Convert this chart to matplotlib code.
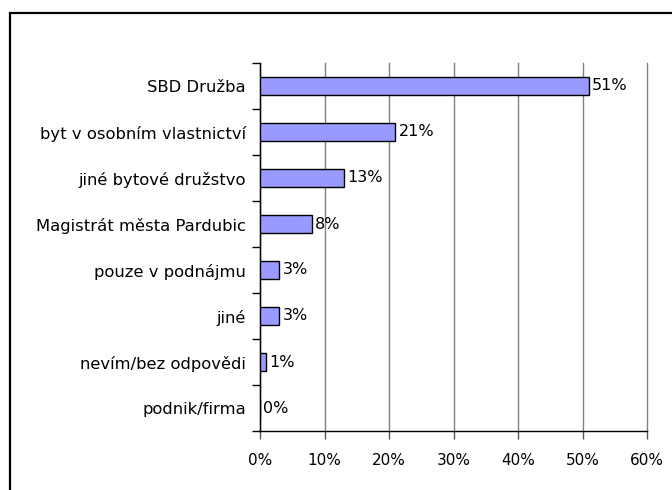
import matplotlib
matplotlib.use("Agg")
import matplotlib.pyplot as plt
from matplotlib.patches import Rectangle
from matplotlib.ticker import FixedLocator

categories = [
    "SBD Družba",
    "byt v osobním vlastnictví",
    "jiné bytové družstvo",
    "Magistrát města Pardubic",
    "pouze v podnájmu",
    "jiné",
    "nevím/bez odpovědi",
    "podnik/firma",
]
values = [51, 21, 13, 8, 3, 3, 1, 0]
xticks = [0, 10, 20, 30, 40, 50, 60]

plt.rcParams["font.family"] = ["DejaVu Sans"]
plt.rcParams["font.size"] = 10.5

fig = plt.figure(figsize=(6.72, 4.9), dpi=100)
ax = fig.add_axes([260 / 672, 1 - 431 / 490, 387 / 672, 368 / 490])

# outer frame (only left and top visible in the reference)
fig.patches.append(Rectangle((10 / 672, -0.1), 1.2, 1 - 13 / 490 + 0.1,
                             transform=fig.transFigure, fill=False,
                             edgecolor="black", linewidth=1.6))

y = list(range(len(categories)))
ax.barh(y, values, height=0.4, color="#9999FF", edgecolor="black",
        linewidth=1.0, zorder=3)

for yi, v in zip(y, values):
    ax.text(v + 0.5, yi, f"{v}%", va="center", ha="left", fontsize=11.5,
            zorder=4)

ax.set_xlim(0, 60)
ax.set_ylim(len(categories) - 0.5, -0.5)
ax.set_xticks(xticks)
ax.set_xticklabels([f"{t}%" for t in xticks], fontsize=11)
ax.set_yticks(y)
ax.set_yticklabels(categories, fontsize=11.8)
ax.yaxis.set_minor_locator(FixedLocator([i - 0.5 for i in range(len(categories) + 1)]))

ax.tick_params(axis="y", which="major", length=0, pad=10)
ax.tick_params(axis="y", which="minor", length=6, width=1, color="black",
               direction="out")
ax.tick_params(axis="x", length=6, width=1, color="#555555", direction="out",
               pad=10)

ax.grid(axis="x", color="#808080", linewidth=1.0, zorder=0)
for line in ax.get_xgridlines():
    line.set_clip_on(False)
ax.spines["top"].set_visible(False)
ax.spines["right"].set_visible(False)
ax.spines["left"].set_linewidth(1.0)
ax.spines["bottom"].set_linewidth(1.0)

fig.savefig("out.png", dpi=100)
